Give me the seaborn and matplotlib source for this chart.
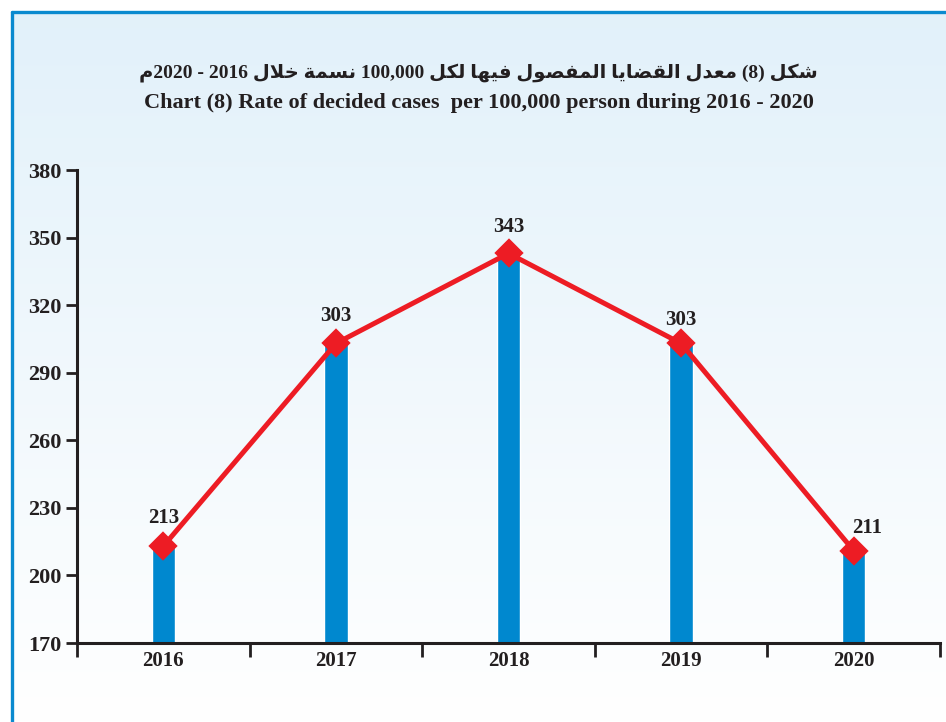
import numpy as np
import pandas as pd
import matplotlib
matplotlib.use("Agg")
import matplotlib.pyplot as plt
from matplotlib.lines import Line2D
import seaborn as sns

# ---------------- data ----------------
years = ["2016", "2017", "2018", "2019", "2020"]
rates = [213, 303, 343, 303, 211]
y_ticks = [170, 200, 230, 260, 290, 320, 350, 380]
title_ar = "شكل (8) معدل القضايا المفصول فيها لكل 100,000 نسمة خلال 2016 - 2020م"
title_en = "Chart (8) Rate of decided cases  per 100,000 person during 2016 - 2020"

# ---------------- minimal Arabic shaping ----------------
FORMS = {  # isolated, final, initial, medial
    'ا': (0xFE8D, 0xFE8E, None, None),
    'د': (0xFEA9, 0xFEAA, None, None),
    'ة': (0xFE93, 0xFE94, None, None),
    'و': (0xFEED, 0xFEEE, None, None),
    'ش': (0xFEB5, 0xFEB6, 0xFEB7, 0xFEB8),
    'ك': (0xFED9, 0xFEDA, 0xFEDB, 0xFEDC),
    'ل': (0xFEDD, 0xFEDE, 0xFEDF, 0xFEE0),
    'م': (0xFEE1, 0xFEE2, 0xFEE3, 0xFEE4),
    'ع': (0xFEC9, 0xFECA, 0xFECB, 0xFECC),
    'ق': (0xFED5, 0xFED6, 0xFED7, 0xFED8),
    'ض': (0xFEBD, 0xFEBE, 0xFEBF, 0xFEC0),
    'ي': (0xFEF1, 0xFEF2, 0xFEF3, 0xFEF4),
    'ف': (0xFED1, 0xFED2, 0xFED3, 0xFED4),
    'ص': (0xFEB9, 0xFEBA, 0xFEBB, 0xFEBC),
    'ه': (0xFEE9, 0xFEEA, 0xFEEB, 0xFEEC),
    'ن': (0xFEE5, 0xFEE6, 0xFEE7, 0xFEE8),
    'س': (0xFEB1, 0xFEB2, 0xFEB3, 0xFEB4),
    'خ': (0xFEA5, 0xFEA6, 0xFEA7, 0xFEA8),
}


def is_ar(c):
    return c in FORMS


def shape_word(w):
    units = []
    i = 0
    while i < len(w):
        if w[i] == 'ل' and i + 1 < len(w) and w[i + 1] == 'ا':
            units.append('LA')
            i += 2
        else:
            units.append(w[i])
            i += 1
    out = []
    for k, u in enumerate(units):
        prev = units[k - 1] if k > 0 else None
        nxt = units[k + 1] if k + 1 < len(units) else None
        prev_joins = prev is not None and prev != 'LA' and FORMS[prev][2] is not None
        if u == 'LA':
            out.append(chr(0xFEFC if prev_joins else 0xFEFB))
            continue
        f = FORMS[u]
        dual = f[2] is not None
        next_joins = dual and nxt is not None
        if prev_joins and next_joins:
            out.append(chr(f[3]))
        elif prev_joins:
            out.append(chr(f[1]))
        elif next_joins:
            out.append(chr(f[2]))
        else:
            out.append(chr(f[0]))
    return ''.join(out)


def visual_rtl(text):
    tokens = text.split(' ')
    vis_tokens = []
    for t in tokens:
        runs = []
        cur = ''
        cur_ar = None
        for c in t:
            a = is_ar(c)
            if cur_ar is None or a == cur_ar:
                cur += c
            else:
                runs.append((cur_ar, cur))
                cur = c
            cur_ar = a
        if cur:
            runs.append((cur_ar, cur))
        parts = []
        for a, r in runs:
            parts.append(shape_word(r)[::-1] if a else r)
        vis_tokens.append(''.join(parts[::-1]))
    return ' '.join(vis_tokens[::-1])


# ---------------- figure ----------------
sns.set_theme(style="white")
plt.rcParams['font.family'] = ['Liberation Serif', 'DejaVu Sans']

W, H = 946, 722
fig = plt.figure(figsize=(W / 100, H / 100), dpi=100)
fig.patch.set_facecolor("white")

# gradient panel background
bg = fig.add_axes([13 / W, 0, 1 - 13 / W, 1 - 13 / H], zorder=-10)
grad = np.linspace(0, 1, 256).reshape(-1, 1)
top = np.array([0.886, 0.945, 0.980])
bot = np.array([1.0, 1.0, 1.0])
img = top[None, None, :] * (1 - grad[:, :, None]) + bot[None, None, :] * grad[:, :, None]
bg.imshow(img, aspect='auto', extent=[0, 1, 0, 1], origin='upper')
bg.set_axis_off()

# border lines
border_c = "#0A8ACF"
fig.add_artist(Line2D([11.5 / W, 1], [1 - 11.5 / H, 1 - 11.5 / H], color=border_c, lw=2.4,
                      transform=fig.transFigure))
fig.add_artist(Line2D([11.5 / W, 11.5 / W], [0, 1 - 11.5 / H], color=border_c, lw=2.4,
                      transform=fig.transFigure))

# titles
fig.text(478 / W, 1 - 73 / H, visual_rtl(title_ar), ha='center', va='center',
         fontsize=14, fontweight='bold', color='#231F20',
         family=['Liberation Serif', 'DejaVu Sans'])
fig.text(479 / W, 1 - 103 / H, title_en, ha='center', va='center',
         fontsize=16, fontweight='bold', color='#231F20', family=['Liberation Serif'])

# main axes
ax = fig.add_axes([77 / W, 1 - 643 / H, (940 - 77) / W, (643 - 170) / H])
ax.set_facecolor('none')

df = pd.DataFrame({"year": years, "rate": rates})
sns.barplot(data=df, x="year", y="rate", color="#0088CF", saturation=1, width=0.135,
            ax=ax, zorder=2)
sns.pointplot(data=df, x="year", y="rate", color="#ED1C24", marker="D", markersize=12,
              linewidth=3.6, errorbar=None, ax=ax, zorder=3)

ax.set_ylim(170, 380)
ax.set_xlim(-0.5, 4.5)
ax.set_yticks(y_ticks)
ax.set_yticklabels([str(v) for v in y_ticks])
ax.set_xticks(range(len(years)))
ax.set_xticklabels(years)
ax.set_xticks(np.arange(-0.5, len(years), 1.0), minor=True)
ax.tick_params(axis='both', which='both', bottom=True, left=True)
ax.tick_params(axis='x', which='major', length=0, pad=6)
ax.tick_params(axis='x', which='minor', length=10, width=2, color='#231F20', direction='out')
ax.tick_params(axis='y', which='major', length=8, width=2, color='#231F20', direction='out', pad=3)
for lab in ax.get_xticklabels():
    lab.set_fontweight('bold')
    lab.set_fontsize(15)
    lab.set_color('#231F20')
    lab.set_family('Liberation Serif')
for lab in ax.get_yticklabels():
    lab.set_fontweight('bold')
    lab.set_fontsize(16)
    lab.set_color('#231F20')
    lab.set_family('Liberation Serif')
ax.set_xlabel("")
ax.set_ylabel("")
for s in ['top', 'right']:
    ax.spines[s].set_visible(False)
for s in ['left', 'bottom']:
    ax.spines[s].set_color('#231F20')
    ax.spines[s].set_linewidth(2.2)

# value labels
label_offsets = [(0, 20), (0, 20), (0, 19), (0, 17), (10, 16.5)]
for i, (v, off) in enumerate(zip(rates, label_offsets)):
    ax.annotate(str(v), (i, v), xytext=off, textcoords='offset points', ha='center',
                va='center', fontsize=15, fontweight='bold', color='#231F20',
                family='Liberation Serif', zorder=5)

fig.savefig("out.png", dpi=100)
